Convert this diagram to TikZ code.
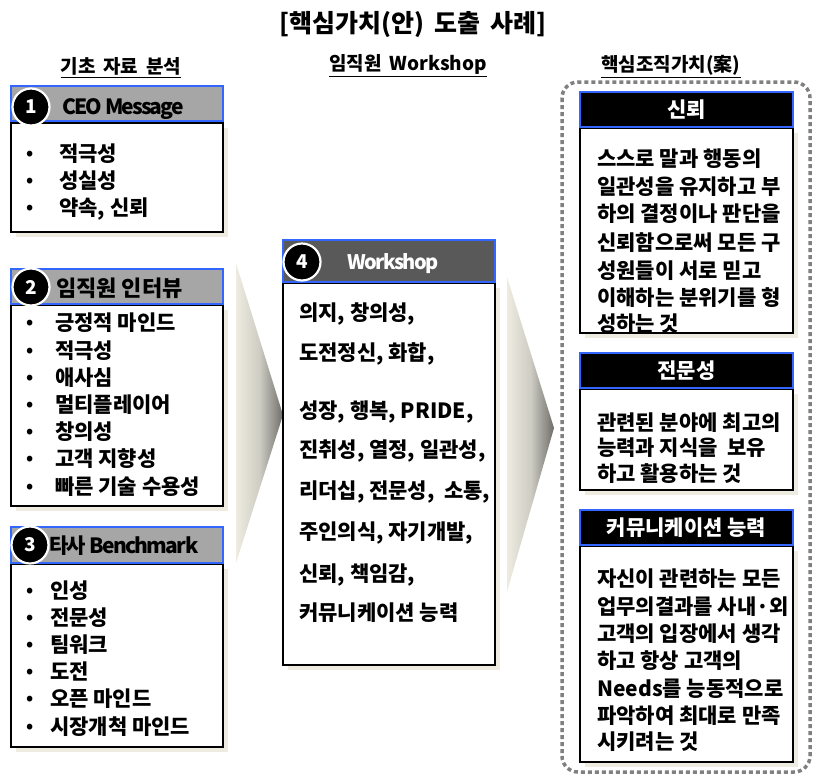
\documentclass[tikz,border=0pt]{standalone}
\usepackage{fontspec}
\setmainfont{Noto Sans CJK KR}
\newfontfamily\krwide{Noto Sans CJK KR}[WordSpace=1.8]
\usetikzlibrary{shadows}
\definecolor{blueb}{RGB}{51,102,255}
\definecolor{hdrgray}{RGB}{166,166,166}
\definecolor{dkgray}{RGB}{89,89,89}
\definecolor{shadc}{RGB}{238,236,225}
\definecolor{dotc}{RGB}{128,128,128}
\definecolor{tipc}{RGB}{110,110,105}
\begin{document}
\begin{tikzpicture}[x=1pt,y=-1pt,
  hdr/.style={draw=blueb, line width=1.6pt, fill=hdrgray, inner sep=0pt},
  hdrdark/.style={draw=blueb, line width=1.6pt, fill=dkgray, inner sep=0pt},
  hdrblack/.style={draw=blueb, line width=1.6pt, fill=black, inner sep=0pt, minimum width=213pt, minimum height=35pt},
  bodybox/.style={draw=black, line width=2pt, fill=white, inner sep=0pt,
     drop shadow={shadow xshift=5pt, shadow yshift=-5pt, fill=shadc, opacity=1}},
  numc/.style={circle, fill=black, draw=white, line width=2.2pt, minimum size=37pt, inner sep=0pt,
     text=white, font=\bfseries\fontsize{19}{19}\selectfont},
  item/.style={anchor=base west, inner sep=0pt, font=\bfseries\fontsize{21}{21}\selectfont},
  bul/.style={anchor=base, inner sep=0pt, font=\bfseries\fontsize{18}{18}\selectfont},
  htext/.style={anchor=base west, inner sep=0pt, font=\bfseries\fontsize{22}{22}\selectfont},
  rhtext/.style={anchor=base, inner sep=0pt, text=white, font=\bfseries\fontsize{21}{21}\selectfont},
  subt/.style={anchor=base, inner xsep=0pt, inner ysep=2.5pt, font=\krwide\bfseries\fontsize{19}{19}\selectfont},
  arrowshade/.style={left color=shadc, right color=tipc, middle color=shadc!75!tipc}
]
\useasboundingbox (0,0) rectangle (838,777);

% title and column headings
\node[anchor=base, inner sep=0pt, font=\krwide\bfseries\fontsize{25}{25}\selectfont] (title) at (413,32) {[핵심가치(안) 도출 사례]};
\node[subt] (s1) at (121,73) {기초 자료 분석};
\draw[line width=1pt] (s1.south west) -- (s1.south east);
\node[subt] (s2) at (408,70) {임직원 Workshop};
\draw[line width=1pt] (s2.south west) -- (s2.south east);
\node[subt] (s3) at (671,71) {핵심조직가치(案)};
\draw[line width=1pt] (s3.south west) -- (s3.south east);

% chevron arrows
\shade[arrowshade] (236,263) -- (283,415) -- (236,563) -- cycle;
\shade[arrowshade] (507,277) -- (554,428) -- (507,592) -- cycle;

% dotted frame
\draw[dotc, line width=3.5pt, dash pattern=on 4pt off 3pt, rounded corners=16pt] (562,82) rectangle (810,772);

% box 1
\node[bodybox, minimum width=212pt, minimum height=109pt] (b1) at (117,177.5) {};
\node[hdr, minimum width=212pt, minimum height=35pt] (h1) at (117,103.5) {};
\node[numc] (c1) at (31,107) {1};
\node[htext, font=\bfseries\fontsize{21}{21}\selectfont\addfontfeature{LetterSpace=-9}] (t1) at (62,114) {CEO Message};
\foreach [count=\i] \t/\yy in {적극성/153, 성실성/180, {약속, 신뢰}/207}{
  \node[bul] (ab\i) at (30,\yy+6) {\textbullet};
  \node[item] (a\i) at (59,\yy+8) {\t};
}

% box 2
\node[bodybox, minimum width=212pt, minimum height=201pt] (b2) at (117,405.5) {};
\node[hdr, minimum width=212pt, minimum height=35pt] (h2) at (117,286.5) {};
\node[numc] (c2) at (31,287) {2};
\node[htext] (t2) at (56,296) {임직원 인터뷰};
\foreach [count=\i] \t/\yy in {긍정적 마인드/322, 적극성/350, 애사심/377, 멀티플레이어/404, 창의성/431, 고객 지향성/458, 빠른 기술 수용성/486}{
  \node[bul] (bb\i) at (30,\yy+6) {\textbullet};
  \node[item] (bi\i) at (55,\yy+8) {\t};
}

% box 3
\node[bodybox, minimum width=212pt, minimum height=183pt] (b3) at (117,655.5) {};
\node[hdr, minimum width=212pt, minimum height=36pt] (h3) at (117,545) {};
\node[numc] (c3) at (30,545) {3};
\node[htext, font=\bfseries\fontsize{21}{21}\selectfont\addfontfeature{LetterSpace=-8}] (t3) at (49,553) {타사 Benchmark};
\foreach [count=\i] \t/\yy in {인성/590, 전문성/617, 팀워크/644, 도전/671, 오픈 마인드/698, 시장개척 마인드/726}{
  \node[bul] (cb\i) at (30,\yy+6) {\textbullet};
  \node[item] (ci\i) at (50,\yy+8) {\t};
}

% box 4 (workshop)
\node[bodybox, minimum width=212pt, minimum height=382pt] (b4) at (389,474) {};
\node[hdrdark, minimum width=212pt, minimum height=42pt] (h4) at (389,261) {};
\node[numc] (c4) at (302,262) {4};
\node[anchor=base, inner sep=0pt, text=white, font=\bfseries\fontsize{20}{20}\selectfont\addfontfeature{LetterSpace=-8}] (t4) at (393,269) {Workshop};
\foreach [count=\i] \t/\yy in {{의지, 창의성,}/312, {도전정신, 화합,}/352, {성장, 행복, PRIDE,}/410, {진취성, 열정, 일관성,}/449, {리더십, 전문성,\ \ 소통,}/490, {주인의식, 자기개발,}/531, {신뢰, 책임감,}/573, {커뮤니케이션 능력}/612}{
  \node[item] (w\i) at (299,\yy+8) {\t};
}

% right box 1
\node[bodybox, minimum width=213pt, minimum height=205pt] (r1) at (686.5,230.5) {};
\node[hdrblack] (rh1) at (686.5,109.5) {};
\node[rhtext] (rt1) at (686.5,117.5) {신뢰};
\foreach [count=\i] \t/\yy in {스스로 말과 행동의/158, 일관성을 유지하고 부/186, 하의 결정이나 판단을/213, 신뢰함으로써 모든 구/242, 성원들이 서로 믿고/270, 이해하는 분위기를 형/297, 성하는 것/323}{
  \node[item] (ra\i) at (597,\yy+8) {\t};
}

% right box 2
\node[bodybox, minimum width=213pt, minimum height=101pt] (r2) at (686.5,439.5) {};
\node[hdrblack] (rh2) at (686.5,370.5) {};
\node[rhtext] (rt2) at (686.5,378.5) {전문성};
\foreach [count=\i] \t/\yy in {관련된 분야에 최고의/422, {능력과 지식을\ \ 보유}/447, 하고 활용하는 것/473}{
  \node[item] (rb\i) at (597,\yy+8) {\t};
}

% right box 3
\node[bodybox, minimum width=213pt, minimum height=216pt] (r3) at (686.5,654) {};
\node[hdrblack] (rh3) at (686.5,527.5) {};
\node[rhtext] (rt3) at (686.5,535.5) {커뮤니케이션 능력};
\foreach [count=\i] \t/\yy in {자신이 관련하는 모든/578, 업무의결과를 사내·외/606, 고객의 입장에서 생각/633, 하고 항상 고객의/660, Needs를 능동적으로/688, 파악하여 최대로 만족/715, 시키려는 것/741}{
  \node[item] (rc\i) at (597,\yy+8) {\t};
}
\end{tikzpicture}
\end{document}
